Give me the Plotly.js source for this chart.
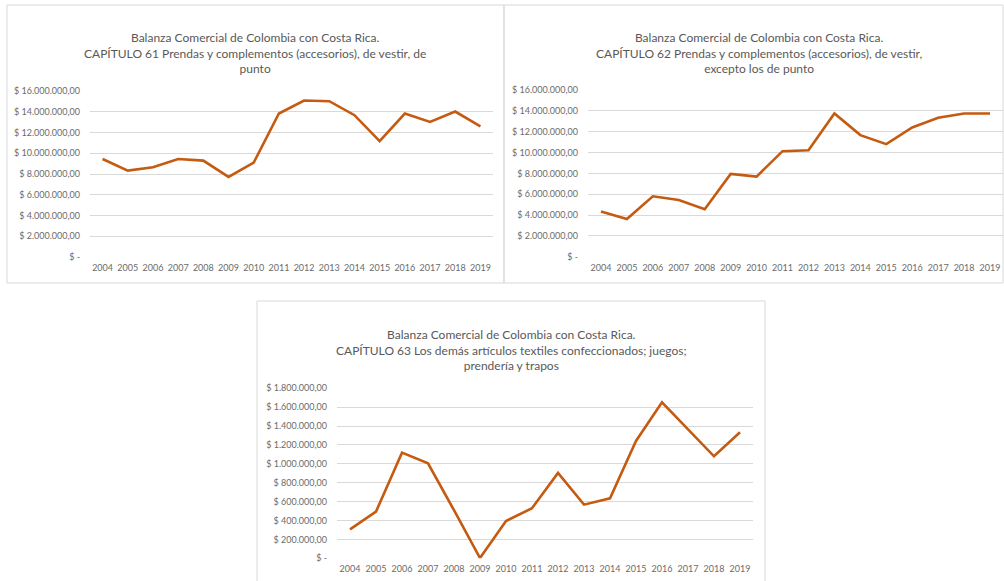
<!DOCTYPE html>
<html>
<head>
<meta charset="utf-8">
<script src="https://cdn.plot.ly/plotly-3.0.1.min.js"></script>
<style>html,body{margin:0;padding:0;background:#fff;}#chart{width:1004px;height:581px;}</style>
</head>
<body>
<div id="chart"></div>
<script>
const years = ["2004","2005","2006","2007","2008","2009","2010","2011","2012","2013","2014","2015","2016","2017","2018","2019"];
const cap61 = [9450000, 8330000, 8650000, 9450000, 9290000, 7720000, 9100000, 13830000, 15080000, 15020000, 13670000, 11160000, 13830000, 13020000, 14020000, 12600000];
const cap62 = [4330000, 3620000, 5800000, 5450000, 4550000, 7950000, 7690000, 10130000, 10220000, 13750000, 11670000, 10800000, 12400000, 13330000, 13750000, 13750000];
const cap63 = [307000, 494000, 1119000, 1006000, 509000, 3000, 395000, 530000, 904000, 568000, 635000, 1243000, 1652000, 1366000, 1080000, 1334000];

const ticks16 = [0, 2000000, 4000000, 6000000, 8000000, 10000000, 12000000, 14000000, 16000000];
const ticks16Text = ["$ -", "$ 2.000.000,00", "$ 4.000.000,00", "$ 6.000.000,00", "$ 8.000.000,00", "$ 10.000.000,00", "$ 12.000.000,00", "$ 14.000.000,00", "$ 16.000.000,00"];
const ticks18 = [0, 200000, 400000, 600000, 800000, 1000000, 1200000, 1400000, 1600000, 1800000];
const ticks18Text = ["$ -", "$ 200.000,00", "$ 400.000,00", "$ 600.000,00", "$ 800.000,00", "$ 1.000.000,00", "$ 1.200.000,00", "$ 1.400.000,00", "$ 1.600.000,00", "$ 1.800.000,00"];

const title61 = "Balanza Comercial de Colombia con Costa Rica.<br>CAPÍTULO 61 Prendas y complementos (accesorios), de vestir, de<br>punto";
const title62 = "Balanza Comercial de Colombia con Costa Rica.<br>CAPÍTULO 62 Prendas y complementos (accesorios), de vestir,<br>excepto los de punto";
const title63 = "Balanza Comercial de Colombia con Costa Rica.<br>CAPÍTULO 63 Los demás artículos textiles confeccionados; juegos;<br>prendería y trapos";

const W = 1004, H = 581;
const px = v => v / W;
const py = v => 1 - v / H;
const FONT = "Lato, 'Open Sans', sans-serif";
const TXT = "#595959";
const TICK = "#6b6b6b";
const GRID = "#D9D9D9";
const LINE = "#C55A11";

function trace(y, xa, ya) {
  return {x: years, y: y, xaxis: xa, yaxis: ya, type: "scatter", mode: "lines",
    line: {color: LINE, width: 2.6}, hoverinfo: "x+y", showlegend: false};
}
function xax(d, anchor) {
  return {domain: d, anchor: anchor, type: "category", range: [-0.5, 15.5], showgrid: false, zeroline: false,
    showline: false, ticks: "", ticklabelstandoff: 4, tickfont: {family: FONT, size: 9, color: TICK}, fixedrange: true};
}
function yax(d, anchor, rng, tv, tt) {
  return {domain: d, anchor: anchor, range: rng, tickvals: tv, ticktext: tt, showgrid: true, gridcolor: GRID, gridwidth: 1,
    zeroline: false, showline: false, ticks: "", ticklabelstandoff: 9,
    tickfont: {family: FONT, size: 9, color: TICK}, fixedrange: true};
}
function rect(x0, y0, x1, y1) {
  return {type: "rect", xref: "paper", yref: "paper", x0: px(x0), x1: px(x1), y0: py(y1), y1: py(y0),
    line: {color: GRID, width: 1}, fillcolor: "rgba(0,0,0,0)", layer: "below"};
}
function ttl(text, cx, cy) {
  return {text: text, xref: "paper", yref: "paper", x: px(cx), y: py(cy), xanchor: "center", yanchor: "middle",
    showarrow: false, align: "center", font: {family: FONT, size: 12, color: TXT}};
}

const data = [trace(cap61, "x", "y"), trace(cap62, "x2", "y2"), trace(cap63, "x3", "y3")];
const layout = {
  width: W, height: H, margin: {l: 0, r: 0, t: 0, b: 0},
  paper_bgcolor: "#fff", plot_bgcolor: "rgba(0,0,0,0)",
  xaxis: xax([px(90), px(493)], "y"),
  yaxis: yax([py(257), py(91)], "x", [0, 16000000], ticks16, ticks16Text),
  xaxis2: xax([px(588), px(1003)], "y2"),
  yaxis2: yax([py(256.7), py(90)], "x2", [0, 16000000], ticks16, ticks16Text),
  xaxis3: xax([px(337), px(753)], "y3"),
  yaxis3: yax([py(558.3), py(388.3)], "x3", [0, 1800000], ticks18, ticks18Text),
  shapes: [rect(7, 5, 504, 283), rect(504, 5, 1003, 283), rect(257, 301, 765, 595)],
  annotations: [ttl(title61, 255, 53), ttl(title62, 759, 52.5), ttl(title63, 511, 350)]
};
Plotly.newPlot("chart", data, layout, {displayModeBar: false, staticPlot: true});
</script>
</body>
</html>
